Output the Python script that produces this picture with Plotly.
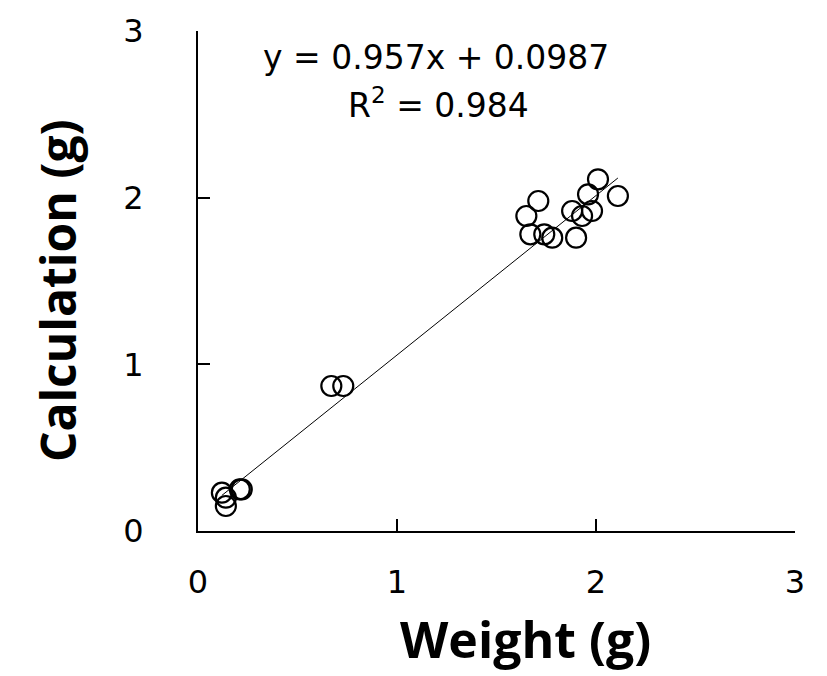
import plotly.graph_objects as go

# Data
weight = [0.12, 0.14, 0.14, 0.21, 0.22, 0.67, 0.73,
          2.01, 2.11, 1.71, 1.65, 1.96, 1.88, 1.93, 1.98,
          1.67, 1.74, 1.78, 1.90]
calculation = [0.23, 0.20, 0.15, 0.25, 0.25, 0.87, 0.87,
               2.11, 2.01, 1.98, 1.89, 2.02, 1.92, 1.89, 1.92,
               1.78, 1.78, 1.76, 1.76]
slope = 0.957
intercept = 0.0987
r_squared = 0.984
tick_vals = [0, 1, 2, 3]
tick_text = ["0", "1", "2", "3"]

x_fit = [min(weight), max(weight)]
y_fit = [slope * v + intercept for v in x_fit]

fig = go.Figure()
fig.add_trace(go.Scatter(x=x_fit, y=y_fit, mode="lines",
                         line=dict(color="black", width=1), showlegend=False,
                         hoverinfo="skip"))
fig.add_trace(go.Scatter(x=weight, y=calculation, mode="markers",
                         marker=dict(symbol="circle-open", size=20, color="black",
                                     line=dict(width=2.2, color="black")),
                         showlegend=False))

axis_common = dict(range=[0, 3], tickvals=tick_vals, ticktext=tick_text,
                   showline=True, linecolor="black", linewidth=2,
                   ticks="inside", ticklen=12, tickwidth=2, tickcolor="black",
                   showgrid=False, zeroline=False,
                   tickfont=dict(family="DejaVu Sans", size=32, color="black"))

fig.update_xaxes(**axis_common, ticklabelstandoff=22)
fig.update_yaxes(**axis_common, ticklabelstandoff=46)

fig.update_layout(
    width=827, height=676,
    margin=dict(l=198, r=32, t=22, b=145),
    plot_bgcolor="white", paper_bgcolor="white",
    annotations=[
        dict(text=f"y = {slope}x + {intercept}", xref="paper", yref="paper",
             x=0.398, y=0.948, showarrow=False, xanchor="center", yanchor="middle",
             font=dict(family="DejaVu Sans", size=33, color="black")),
        dict(text=f"R<sup>2</sup> = {r_squared}", xref="paper", yref="paper",
             x=0.403, y=0.855, showarrow=False, xanchor="center", yanchor="middle",
             font=dict(family="DejaVu Sans", size=33, color="black")),
        dict(text="<b>Weight (g)</b>", xref="paper", yref="paper",
             x=0.548, y=-0.215, showarrow=False, xanchor="center", yanchor="middle",
             font=dict(family="Open Sans", size=50, color="black")),
        dict(text="<b>Calculation (g)</b>", xref="paper", yref="paper",
             x=-0.236, y=0.48, showarrow=False, xanchor="center", yanchor="middle",
             textangle=-90,
             font=dict(family="Open Sans", size=48, color="black")),
    ],
)

fig.write_html("out.html")
